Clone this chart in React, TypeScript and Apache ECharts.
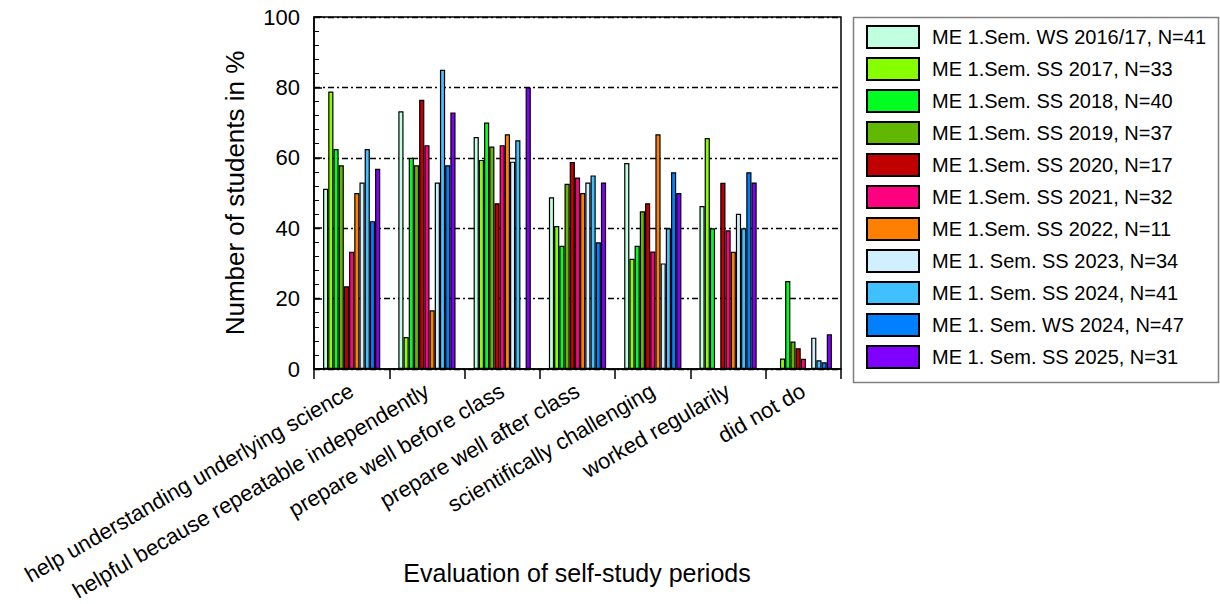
import React, { useEffect, useRef } from "react";
import * as echarts from "echarts";

const categories = [
  "help understanding underlying science",
  "helpful because repeatable independently",
  "prepare well before class",
  "prepare well after class",
  "scientifically challenging",
  "worked regularily",
  "did not do",
];

const xAxisTitle = "Evaluation of self-study periods";
const yAxisTitle = "Number of students in %";

const seriesNames = [
  "ME 1.Sem. WS 2016/17, N=41",
  "ME 1.Sem. SS 2017, N=33",
  "ME 1.Sem. SS 2018, N=40",
  "ME 1.Sem. SS 2019, N=37",
  "ME 1.Sem. SS 2020, N=17",
  "ME 1.Sem. SS 2021, N=32",
  "ME 1.Sem. SS 2022, N=11",
  "ME 1. Sem. SS 2023, N=34",
  "ME 1. Sem. SS 2024, N=41",
  "ME 1. Sem. WS 2024, N=47",
  "ME 1. Sem. SS 2025, N=31",
];

const seriesColors = [
  "#C0FFE0",
  "#88FF00",
  "#00FF20",
  "#60B800",
  "#C00000",
  "#FF0080",
  "#FF8000",
  "#D0F0FF",
  "#40C0FF",
  "#0080FF",
  "#8000FF",
];

const ws2016 = [51.2, 73.2, 65.9, 48.8, 58.5, 46.3, 0];
const ss2017 = [78.8, 9.1, 59.4, 40.6, 31.3, 65.6, 3.0];
const ss2018 = [62.5, 60.0, 70.0, 35.0, 35.0, 40.0, 25.0];
const ss2019 = [57.9, 57.9, 63.2, 52.6, 44.8, 0, 7.8];
const ss2020 = [23.5, 76.5, 47.1, 58.8, 47.1, 52.9, 5.9];
const ss2021 = [33.3, 63.6, 63.6, 54.4, 33.4, 39.4, 2.9];
const ss2022 = [50.0, 16.7, 66.7, 50.0, 66.7, 33.3, 0];
const ss2023 = [53.0, 53.0, 58.9, 53.0, 30.0, 44.1, 8.9];
const ss2024 = [62.5, 85.0, 65.0, 55.0, 40.0, 40.0, 2.5];
const ws2024 = [42.0, 57.9, 0, 36.0, 55.9, 55.9, 1.9];
const ss2025 = [56.9, 72.9, 80.0, 53.0, 50.0, 53.0, 9.9];

const seriesValues = [
  ws2016, ss2017, ss2018, ss2019, ss2020, ss2021, ss2022, ss2023, ss2024, ws2024, ss2025,
];

const yTicks = [0, 20, 40, 60, 80, 100];

const FONT = "Liberation Sans, Arial, sans-serif";

export default function App() {
  const ref = useRef<HTMLDivElement>(null);

  useEffect(() => {
    document.body.style.margin = "0";
    if (!ref.current) return;
    const chart = echarts.init(ref.current, undefined, { renderer: "svg" });
    const option: any = {
      animation: false,
      backgroundColor: "#ffffff",
      textStyle: { fontFamily: FONT },
      grid: {
        left: 314,
        right: 379,
        top: 17,
        bottom: 235,
        containLabel: false,
        outerBoundsMode: "none",
        show: true,
        borderColor: "#000",
        borderWidth: 1.5,
        backgroundColor: "transparent",
      },
      legend: {
        orient: "vertical",
        left: 866,
        top: 25,
        itemWidth: 52,
        itemHeight: 22,
        itemGap: 8,
        padding: 0,
        icon: "rect",
        textStyle: {
          fontSize: 20,
          fontFamily: FONT,
          color: "#000",
          padding: [0, 0, 0, 8],
        },
        data: seriesNames,
      },
      graphic: [
        {
          type: "rect",
          shape: { x: 853.5, y: 17.5, width: 365, height: 365 },
          style: { fill: "none", stroke: "#808080", lineWidth: 1.5 },
          silent: true,
        },
        {
          type: "text",
          x: 577,
          y: 573,
          style: {
            text: xAxisTitle,
            fontSize: 25,
            fontFamily: FONT,
            fill: "#000",
            align: "center",
            verticalAlign: "middle",
          },
          silent: true,
        },
      ],
      xAxis: {
        type: "category",
        data: categories,
        axisLine: { lineStyle: { color: "#000", width: 1.5 } },
        axisTick: {
          show: true,
          alignWithLabel: false,
          length: 10,
          lineStyle: { color: "#000", width: 1.5 },
        },
        axisLabel: {
          rotate: 30,
          interval: 0,
          margin: 20,
          fontSize: 22,
          color: "#000",
          fontFamily: FONT,
        },
        splitLine: { show: false },
      },
      yAxis: {
        type: "value",
        min: 0,
        max: 100,
        interval: 20,
        name: yAxisTitle,
        nameLocation: "middle",
        nameGap: 66,
        nameTextStyle: { fontSize: 26, color: "#000", fontFamily: FONT },
        axisLine: { show: true, lineStyle: { color: "#000", width: 1.5 } },
        axisTick: {
          show: true,
          inside: true,
          length: 8,
          lineStyle: { color: "#000", width: 1.5 },
        },
        minorTick: {
          show: true,
          splitNumber: 5,
          length: 5,
          lineStyle: { color: "#000", width: 1 },
        },
        axisLabel: {
          fontSize: 22,
          color: "#000",
          margin: 14,
          fontFamily: FONT,
          formatter: (v: number) => (yTicks.includes(v) ? String(v) : ""),
        },
        splitLine: {
          show: true,
          lineStyle: { color: "#000", width: 1.4, type: [6, 3, 2, 3] },
        },
      },
      series: seriesNames.map((name, i) => ({
        name,
        type: "bar",
        data: seriesValues[i],
        barGap: "0%",
        barCategoryGap: "24%",
        itemStyle: {
          color: seriesColors[i],
          borderColor: "#000",
          borderWidth: 1.2,
        },
      })),
    };
    chart.setOption(option);
    return () => chart.dispose();
  }, []);

  return <div ref={ref} style={{ width: 1220, height: 604 }} />;
}
